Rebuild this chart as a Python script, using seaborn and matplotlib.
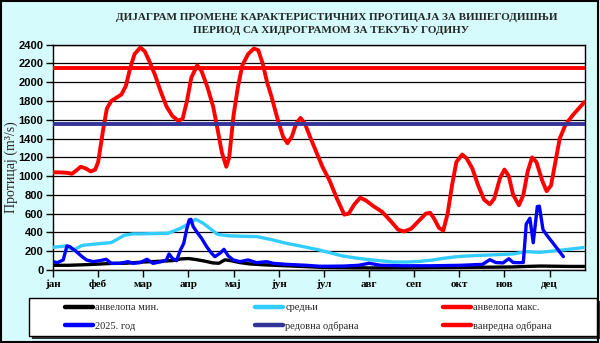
import matplotlib
matplotlib.use("Agg")
import matplotlib.pyplot as plt
import pandas as pd
import seaborn as sns
from matplotlib.lines import Line2D
from matplotlib.patches import Rectangle

# ---- data (day of year, discharge m3/s) ----
month_labels = ["јан", "феб", "мар", "апр", "мај", "јун",
                "јул", "авг", "сеп", "окт", "нов", "дец"]
month_ticks = [0, 31, 62, 93, 124, 155, 186, 217, 248, 279, 310, 341]

env_min_days = [0, 10, 20, 30, 40, 50, 62, 72, 82, 88, 93, 98, 104, 110, 114,
                118, 122, 128, 135, 145, 160, 175, 185, 200, 220, 240, 260,
                280, 300, 315, 325, 335, 345, 355, 365]
env_min_vals = [50, 50, 55, 62, 70, 72, 85, 92, 100, 118, 122, 112, 95, 75, 72,
                108, 100, 80, 65, 55, 45, 35, 28, 25, 22, 22, 25,
                28, 30, 32, 38, 42, 40, 38, 38]

mean_days = [0, 5, 9, 14, 20, 30, 40, 49, 55, 60, 70, 79, 87, 93, 98, 103, 108,
             113, 120, 128, 140, 151, 160, 170, 183, 191, 199, 207, 215, 225,
             234, 243, 252, 260, 268, 276, 284, 292, 300, 308, 316, 325, 334,
             342, 350, 358, 365]
mean_vals = [242, 250, 256, 212, 262, 278, 292, 370, 385, 385, 388, 392, 440,
             490, 540, 500, 440, 380, 365, 360, 356, 320, 285, 255, 213, 180,
             149, 130, 114, 98, 85, 85, 92, 105, 124, 140, 149, 155, 160, 165,
             171, 196, 188, 200, 213, 228, 240]

env_max_days = [0, 5, 10, 13, 16, 19, 22, 26, 29, 31, 33, 35, 37, 40, 44, 47,
                50, 53, 56, 60, 63, 66, 70, 74, 78, 82, 86, 89, 92, 95, 99,
                102, 106, 110, 113, 116, 119, 121, 124, 127, 130, 134, 138,
                141, 144, 147, 150, 154, 158, 161, 164, 167, 170, 173, 177,
                181, 185, 190, 195, 200, 203, 207, 211, 215, 220, 226, 232,
                237, 241, 246, 251, 256, 259, 262, 265, 268, 271, 274, 277,
                281, 284, 288, 292, 296, 300, 303, 307, 310, 313, 316, 320,
                323, 326, 329, 332, 336, 339, 342, 345, 348, 352, 357, 361,
                365]
env_max_vals = [1040, 1040, 1035, 1025, 1060, 1100, 1085, 1050, 1070, 1150,
                1350, 1550, 1720, 1800, 1840, 1870, 1960, 2150, 2300, 2370,
                2330, 2230, 2080, 1900, 1740, 1640, 1590, 1610, 1800, 2050,
                2180, 2120, 1950, 1740, 1500, 1250, 1100, 1200, 1650, 1950,
                2180, 2300, 2360, 2340, 2200, 2000, 1850, 1620, 1420, 1350,
                1420, 1560, 1620, 1560, 1400, 1250, 1100, 950, 760, 590, 600,
                700, 770, 740, 680, 620, 520, 430, 410, 440, 520, 600, 610,
                540, 450, 420, 600, 900, 1150, 1230, 1190, 1080, 900, 750,
                700, 760, 980, 1070, 1000, 800, 690, 800, 1050, 1200, 1150,
                950, 840, 900, 1150, 1400, 1550, 1650, 1720, 1790]

year_days = [0, 3, 7, 9.6, 11.5, 16, 20, 23, 27.5, 32, 36.6, 40, 45.8, 51.5,
             55, 59.6, 64.6, 68.7, 74.5, 77.9, 79.7, 82, 84.8, 87.5, 89.8,
             91.7, 93.5, 94.7, 96.3, 98.6, 102, 105.5, 108.9, 111.2, 114.6,
             117.4, 120.4, 123.8, 128.4, 134, 139.8, 146.7, 151.3, 160.4, 174,
             183, 190, 200, 210, 217, 225, 240, 260, 280, 295, 300, 304, 309,
             313, 316, 320, 323, 325, 327.5, 329.8, 332.6, 334, 336.5, 339,
             343.5, 347, 350.5]
year_vals = [89, 78, 107, 256, 249, 196, 142, 107, 89, 99, 114, 71, 71, 89,
             71, 78, 114, 71, 89, 107, 171, 124, 99, 213, 284, 427, 533, 540,
             462, 409, 338, 249, 178, 142, 178, 220, 149, 107, 89, 107, 78, 89,
             71, 60, 50, 40, 40, 42, 50, 72, 50, 45, 45, 50, 60, 110, 80, 75,
             120, 80, 78, 80, 490, 551, 290, 676, 680, 430, 373, 284, 213, 142]

regular_defence = 1560
emergency_defence = 2150

# ---- styling ----
BG = "#d6fbfc"
C_MIN, C_MEAN, C_MAX = "#000000", "#33ccff", "#ff0000"
C_YEAR, C_REG, C_EMER = "#0000ff", "#333399", "#ff0000"

sns.set_theme(style="white")
plt.rcParams["font.family"] = ["Liberation Serif", "DejaVu Serif"]

fig = plt.figure(figsize=(6, 3.43), dpi=100, facecolor=BG)
ax = fig.add_axes([53 / 600, 1 - 270 / 343, (584.5 - 53) / 600, (270 - 44.7) / 343])
ax.set_facecolor("white")

series = [
    (env_min_days, env_min_vals, C_MIN, 2.4),
    (mean_days, mean_vals, C_MEAN, 2.4),
    (env_max_days, env_max_vals, C_MAX, 2.8),
    (year_days, year_vals, C_YEAR, 2.4),
]
for d, v, c, lw in series:
    df = pd.DataFrame({"day": d, "q": v})
    sns.lineplot(data=df, x="day", y="q", ax=ax, color=c, lw=lw,
                 estimator=None, sort=False, legend=False, zorder=3)

ax.axhline(regular_defence, color=C_REG, lw=2.8, zorder=4)
ax.axhline(emergency_defence, color=C_EMER, lw=2.8, zorder=4)

ax.set_xlim(0, 365)
ax.set_ylim(0, 2400)
ax.set_yticks(range(0, 2401, 200))
ax.set_xticks(month_ticks)
ax.set_xticklabels(month_labels, fontsize=8, fontweight="bold",
                   family=["Liberation Serif"])
for lbl in ax.get_yticklabels():
    lbl.set_fontfamily(["Liberation Sans"])
    lbl.set_fontweight("bold")
    lbl.set_fontsize(8)
ax.set_xlabel("")
ax.set_ylabel("")
ax.tick_params(axis="both", bottom=True, left=True, direction="out",
               length=5, width=1, color="black", pad=2, labelcolor="black")
ax.yaxis.grid(True, color="black", lw=0.9)
ax.set_axisbelow(True)
for s in ax.spines.values():
    s.set_visible(True)
    s.set_color("black")
    s.set_linewidth(1)

# titles and axis label
fig.text(337 / 600, 1 - 18 / 343,
         "ДИЈАГРАМ ПРОМЕНЕ КАРАКТЕРИСТИЧНИХ ПРОТИЦАЈА ЗА ВИШЕГОДИШЊИ",
         ha="center", va="center", fontsize=8, fontweight="bold")
fig.text(331 / 600, 1 - 30.5 / 343,
         "ПЕРИОД СА ХИДРОГРАМОМ ЗА ТЕКУЋУ ГОДИНУ",
         ha="center", va="center", fontsize=8, fontweight="bold")
fig.text(11 / 600, 1 - 167 / 343, "Протицај (m³/s)", rotation=90,
         ha="center", va="center", fontsize=10)

# legend panel with shadow
lx0, lx1, ly0, ly1 = 29, 597, 298, 336
fig.patches.append(Rectangle(((lx0 + 3) / 600, 1 - (ly1 + 3) / 343),
                             (lx1 - lx0) / 600, (ly1 - ly0) / 343,
                             transform=fig.transFigure, facecolor="#333333",
                             edgecolor="none", zorder=1))
fig.patches.append(Rectangle((lx0 / 600, 1 - ly1 / 343),
                             (lx1 - lx0) / 600, (ly1 - ly0) / 343,
                             transform=fig.transFigure, facecolor="white",
                             edgecolor="black", lw=1, zorder=2))

columns = [
    (65, [("анвелопа мин.", C_MIN), ("2025. год", C_YEAR)]),
    (255, [("средњи", C_MEAN), ("редовна одбрана", C_REG)]),
    (443, [("анвелопа макс.", C_MAX), ("ванредна одбрана", C_EMER)]),
]
for x0, entries in columns:
    handles = [Line2D([], [], color=c, lw=3.2) for _, c in entries]
    labels = [t for t, _ in entries]
    leg = fig.legend(handles, labels, loc="center left",
                     bbox_to_anchor=(x0 / 600, 1 - 317 / 343),
                     frameon=False, fontsize=7.5, handlelength=2.7,
                     handletextpad=0.2, labelspacing=0.9, borderpad=0,
                     borderaxespad=0)
    leg.set_zorder(5)

# outer frame
fig.patches.append(Rectangle((0.002, 0.003), 0.995, 0.994,
                             transform=fig.transFigure, fill=False,
                             edgecolor="black", lw=1.5, zorder=10))

fig.savefig("out.png", dpi=100, facecolor=BG)
